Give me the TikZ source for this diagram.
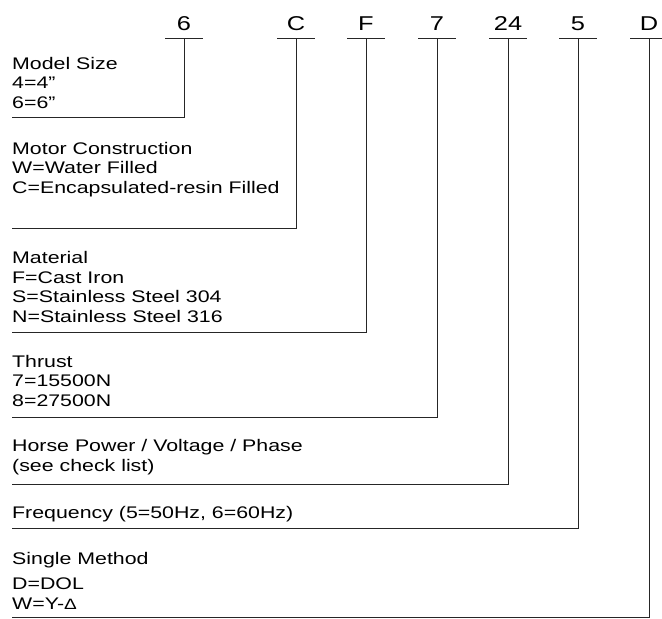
\documentclass[tikz,border=0pt]{standalone}
\usepackage{fontspec}
\setmainfont{Liberation Sans}[FakeStretch=1.27]
\begin{document}
\begin{tikzpicture}[x=1pt,y=-1pt,
  codetxt/.style={anchor=base,inner sep=0pt,font=\fontsize{20}{20}\selectfont},
  desc/.style={anchor=base west,inner sep=0pt,align=left,font=\fontsize{16.8}{19.5}\selectfont},
  lead/.style={draw=black!85,line width=1pt}]
\useasboundingbox (0,0) rectangle (662,619);
\foreach \n/\x in {6/184,C/296,F/366,7/437,24/508,5/578,D/649}{
  \node[codetxt] (code\n) at (\x,30) {\n};
  \coordinate (top\n) at (\x,38);
  \draw[lead] ([xshift=-19pt]top\n) -- ([xshift=19pt]top\n);
}
\node[desc] (model) at (12,108) {Model Size\\4=4”\\6=6”};
\node[desc] (motor) at (12,193) {Motor Construction\\W=Water Filled\\C=Encapsulated-resin Filled};
\node[desc] (material) at (12,322) {Material\\F=Cast Iron\\S=Stainless Steel 304\\N=Stainless Steel 316};
\node[desc] (thrust) at (12,406) {Thrust\\7=15500N\\8=27500N};
\node[desc] (power) at (12,471) {Horse Power / Voltage / Phase\\(see check list)};
\node[desc] (freq) at (12,518) {Frequency (5=50Hz, 6=60Hz)};
\node[desc] (method) at (12,609) {Single Method\\[6pt]D=DOL\\W=Y-{\fontsize{15}{15}\selectfont Δ}};
\coordinate (end6) at (12,117);
\coordinate (endC) at (12,228);
\coordinate (endF) at (12,332);
\coordinate (end7) at (12,417);
\coordinate (end24) at (12,484);
\coordinate (end5) at (12,528);
\coordinate (endD) at (12,617);
\foreach \n in {6,C,F,7,24,5,D}
  \draw[lead] (top\n) |- (end\n);
\end{tikzpicture}
\end{document}
